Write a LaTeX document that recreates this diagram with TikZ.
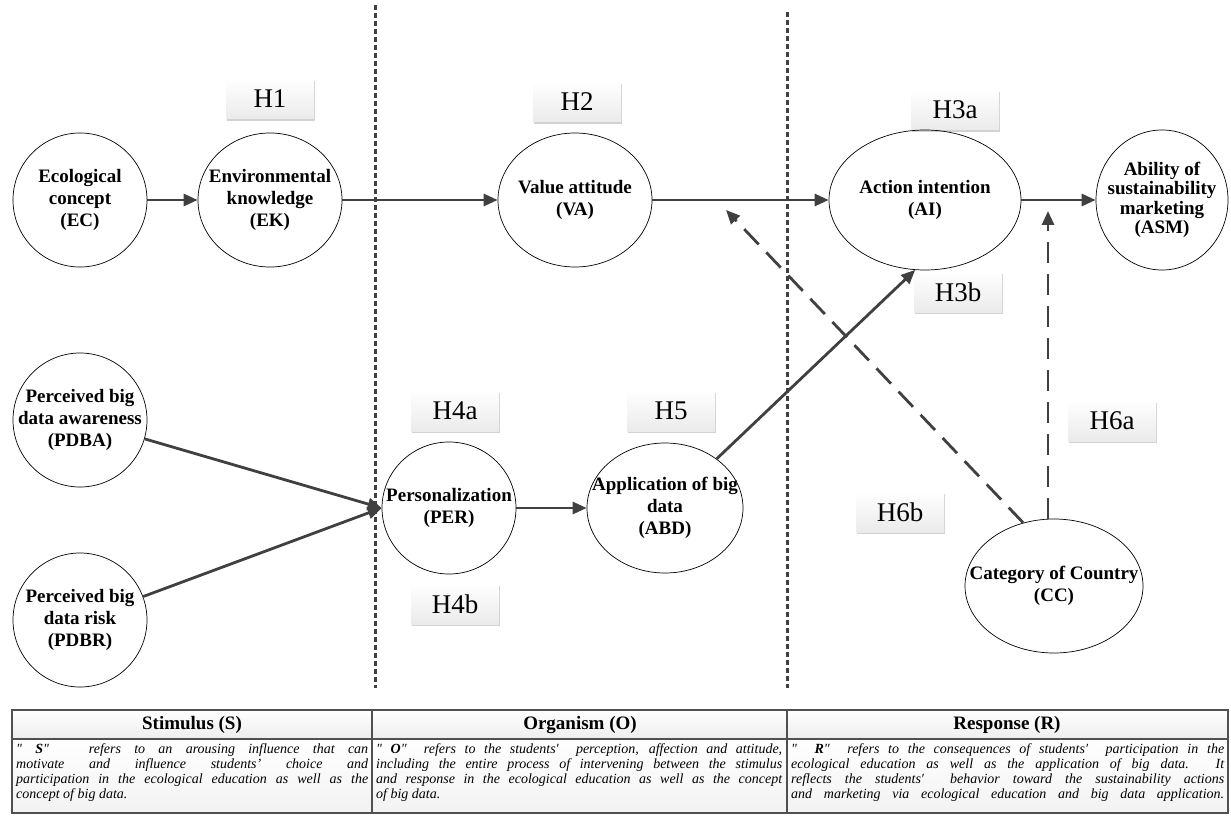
\documentclass[tikz,border=0pt]{standalone}
\usepackage{fontspec}
\setmainfont{Liberation Serif}
\newfontfamily\plainserif{Liberation Serif}
\usetikzlibrary{shapes.geometric,arrows.meta,shadows}
\definecolor{ln}{RGB}{64,64,64}
\definecolor{tb}{RGB}{80,80,80}
\begin{document}
\begin{tikzpicture}[x=1pt,y=-1pt,
  cnode/.style={ellipse,draw=black,line width=0.7pt,inner sep=0pt},
  ctext/.style={align=center,inner sep=0pt,font=\fontsize{19}{22}\selectfont\bfseries},
  hbox/.style={minimum width=88pt,minimum height=40pt,inner sep=0pt,top color=white,bottom color=gray!16,
    drop shadow={shadow xshift=1.2pt,shadow yshift=-1.8pt,fill=gray!35,opacity=1},font=\fontsize{27}{30}\selectfont},
  arr/.style={draw=ln,line width=2.8pt,-{Triangle[length=14pt,width=12pt]}},
  darr/.style={arr,dash pattern=on 21pt off 11pt},
  sepline/.style={draw=ln,line width=3pt,dash pattern=on 5pt off 3pt},
  tline/.style={draw=tb,line width=2pt},
  thead/.style={inner sep=0pt,font=\fontsize{19}{21}\selectfont\bfseries},
  tbody/.style={inner sep=0pt,anchor=north west,font=\plainserif\fontsize{14}{15}\selectfont\itshape}
]
\useasboundingbox (0,0) rectangle (1231,818);

% separators
\coordinate (s1a) at (375,5);   \coordinate (s1b) at (375,688);
\coordinate (s2a) at (787,12);  \coordinate (s2b) at (787,688);
\draw[sepline] (s1a) -- (s1b);
\draw[sepline] (s2a) -- (s2b);

% hypothesis labels
\node[hbox] (h1)  at (270,99)  {H1};
\node[hbox] (h2)  at (577,102) {H2};
\node[hbox] (h3a) at (955,110) {H3a};
\node[hbox] (h3b) at (958,292) {H3b};
\node[hbox] (h4a) at (455,411) {H4a};
\node[hbox] (h4b) at (455,604) {H4b};
\node[hbox] (h5)  at (671,411) {H5};
\node[hbox] (h6a) at (1112,421) {H6a};
\node[hbox] (h6b) at (900,512) {H6b};

% constructs
\node[cnode,minimum width=134pt,minimum height=134pt] (ec) at (80,200) {};
\node[ctext] (ect) at (ec) {Ecological\\concept\\(EC)};
\node[cnode,minimum width=144pt,minimum height=134pt] (ek) at (270,200) {};
\node[ctext] (ekt) at (ek) {Environmental\\knowledge\\(EK)};
\node[cnode,minimum width=154pt,minimum height=134pt] (va) at (575,200) {};
\node[ctext] (vat) at (va) {Value attitude\\(VA)};
\node[cnode,minimum width=192pt,minimum height=140pt] (ai) at (925,200) {};
\node[ctext] (ait) at (ai) {Action intention\\(AI)};
\node[cnode,minimum width=132pt,minimum height=140pt] (asm) at (1162,200) {};
\node[ctext,font=\fontsize{19}{19.5}\selectfont\bfseries] (asmt) at (asm) {Ability of\\sustainability\\marketing\\(ASM)};
\node[cnode,minimum width=134pt,minimum height=134pt] (pdba) at (80,420) {};
\node[ctext] (pdbat) at (pdba) {Perceived big\\data awareness\\(PDBA)};
\node[cnode,minimum width=134pt,minimum height=134pt] (pdbr) at (80,620) {};
\node[ctext] (pdbrt) at (pdbr) {Perceived big\\data risk\\(PDBR)};
\node[cnode,minimum width=134pt,minimum height=132pt] (per) at (449,508) {};
\node[ctext] (pert) at (per) {Personalization\\(PER)};
\node[cnode,minimum width=156pt,minimum height=130pt] (abd) at (665,508) {};
\node[ctext] (abdt) at (abd) {Application of big\\data\\(ABD)};
\node[cnode,minimum width=178pt,minimum height=134pt] (cc) at (1054,586) {};
\node[ctext] (cct) at (cc) {Category of Country\\(CC)};

% connectors
\draw[arr] (ec) -- (ek);
\draw[arr] (ek) -- (va);
\draw[arr] (va) -- (ai);
\draw[arr] (ai) -- (asm);
\draw[arr] (pdba) -- (per.west);
\draw[arr] (pdbr) -- (per.west);
\draw[arr] (per) -- (abd);
\draw[arr] (abd) -- (ai.262);
\coordinate (t1) at (726,210);
\coordinate (t2) at (1048,211);
\draw[darr] (cc.116) -- (t1);
\draw[darr] (cc.north -| t2) -- (t2);

% table
\shade[top color=white,bottom color=gray!14] (12,710) rectangle (1228,739);
\shade[top color=white,bottom color=gray!10] (12,739) rectangle (1228,813);
\draw[tline] (12,710) rectangle (1228,813);
\draw[tline] (12,739) -- (1228,739);
\draw[tline] (372,710) -- (372,813);
\draw[tline] (787,710) -- (787,813);

\node[thead] (hs) at (192,725) {Stimulus (S)};
\node[thead] (ho) at (580,725) {Organism (O)};
\node[thead] (hr) at (1007,725) {Response (R)};

\node[tbody] (bs) at (16,743) {\parbox[t]{352pt}{%
\makebox[352pt][s]{"\ \textbf{S}"\ \ \ refers to an arousing influence that can}\\
\makebox[352pt][s]{motivate and influence students’ choice and}\\
\makebox[352pt][s]{participation in the ecological education as well as the}\\
\makebox[352pt][l]{concept of big data.}}};
\node[tbody] (bo) at (376,743) {\parbox[t]{406pt}{%
\makebox[406pt][s]{"\ \textbf{O}"\ \ refers to the students′\ \ perception, affection and attitude,}\\
\makebox[406pt][s]{including the entire process of intervening between the stimulus}\\
\makebox[406pt][s]{and response in the ecological education as well as the concept}\\
\makebox[406pt][l]{of big data.}}};
\node[tbody] (br) at (791,743) {\parbox[t]{433pt}{%
\makebox[433pt][s]{"\ \ \textbf{R}"\ \ refers to the consequences of students′\ \ participation in the}\\
\makebox[433pt][s]{ecological education as well as the application of big data. It}\\
\makebox[433pt][s]{reflects the students′\ \ behavior toward the sustainability actions}\\
\makebox[433pt][s]{and marketing via ecological education and big data application.}}};
\end{tikzpicture}
\end{document}
